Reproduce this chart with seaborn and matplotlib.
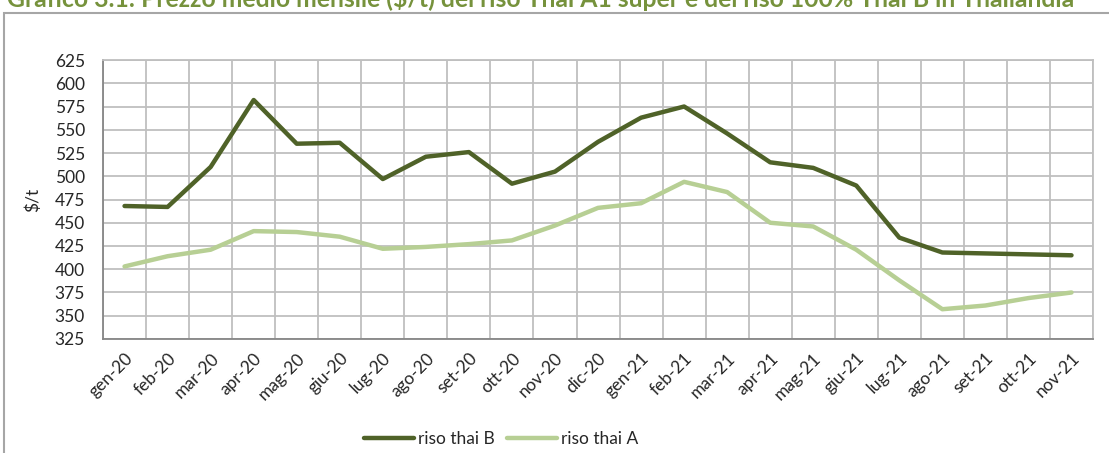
import matplotlib
matplotlib.use("Agg")
import matplotlib.pyplot as plt
import matplotlib.patches as mpatches
import seaborn as sns
import pandas as pd

mesi = ["gen-20", "feb-20", "mar-20", "apr-20", "mag-20", "giu-20", "lug-20",
        "ago-20", "set-20", "ott-20", "nov-20", "dic-20", "gen-21", "feb-21",
        "mar-21", "apr-21", "mag-21", "giu-21", "lug-21", "ago-21", "set-21",
        "ott-21", "nov-21"]
riso_thai_b = [468, 467, 510, 582, 535, 536, 497, 521, 526, 492, 505, 537,
               563, 575, 546, 515, 509, 490, 434, 418, 417, 416, 415]
riso_thai_a = [403, 414, 421, 441, 440, 435, 422, 424, 427, 431, 447, 466,
               471, 494, 483, 450, 446, 421, 388, 357, 361, 369, 375]
y_ticks = list(range(325, 626, 25))

df = pd.concat([
    pd.DataFrame({"x": range(len(mesi)), "val": riso_thai_b, "serie": "riso thai B"}),
    pd.DataFrame({"x": range(len(mesi)), "val": riso_thai_a, "serie": "riso thai A"}),
])

sns.set_style("white")
plt.rcParams["font.family"] = ["Lato", "DejaVu Sans"]

fig = plt.figure(figsize=(11.09, 4.53), dpi=100)
ax = fig.add_axes([0.0929, 0.2517, 0.8927, 0.6158])

# cornice esterna
fig.patches.append(mpatches.Rectangle((4 / 1109, -0.1), 1.1, 1.1 - 13 / 453,
                                      transform=fig.transFigure, fill=False,
                                      edgecolor="#A6A6A6", linewidth=1.5))
# titolo (tagliato in alto come nell'originale)
fig.text(7 / 1109, 1.004, "Grafico 3.1: Prezzo medio mensile ($/t) del riso Thai A1 super e del riso 100% Thai B in Thailandia",
         color="#76923C", fontsize=17.8, fontweight="bold", va="center", ha="left")

sns.lineplot(data=df, x="x", y="val", hue="serie",
             palette={"riso thai B": "#4F6228", "riso thai A": "#B7CF94"},
             linewidth=3.2, ax=ax, zorder=3)

ax.set_xlim(-0.5, len(mesi) - 0.5)
ax.set_ylim(325, 625)
ax.set_yticks(y_ticks)
ax.set_xticks(range(len(mesi)))
ax.set_xticklabels(mesi, rotation=45, ha="right", rotation_mode="anchor", fontsize=12.5)
ax.set_xticks([i - 0.5 for i in range(len(mesi) + 1)], minor=True)
ax.tick_params(axis="x", which="major", length=0, pad=8)
ax.tick_params(axis="x", which="minor", length=5, color="#868686", direction="out")
ax.tick_params(axis="y", length=5, color="#868686", labelsize=12.5, pad=8)
ax.grid(True, axis="y", color="#BFBFBF", linewidth=1.3)
ax.grid(True, axis="x", which="minor", color="#BFBFBF", linewidth=1.3)
ax.set_axisbelow(True)
for s in ["top", "right"]:
    ax.spines[s].set_color("#BFBFBF")
    ax.spines[s].set_linewidth(1.3)
for s in ["left", "bottom"]:
    ax.spines[s].set_color("#868686")
    ax.spines[s].set_linewidth(1.3)
ax.set_xlabel("")
ax.set_ylabel("$/t", fontsize=12.5, labelpad=10)

leg = ax.legend(loc="center", bbox_to_anchor=(0.402, -0.36), ncol=2, frameon=False,
                fontsize=12.5, handlelength=2.9, handletextpad=0.2, columnspacing=0.7)
for line in leg.get_lines():
    line.set_linewidth(3.2)

fig.savefig("out.png", dpi=100)
